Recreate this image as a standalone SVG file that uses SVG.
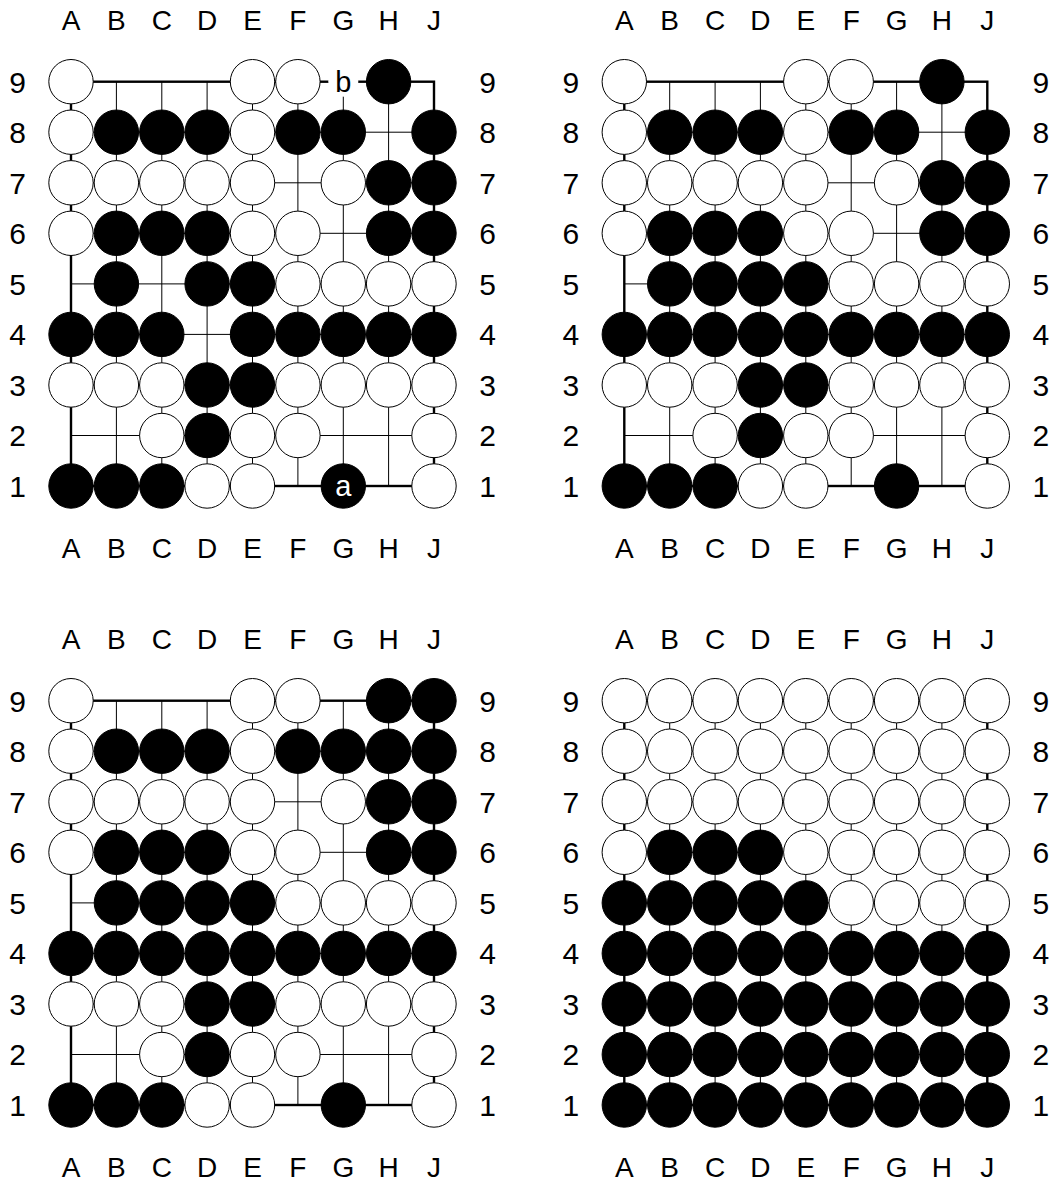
<svg xmlns="http://www.w3.org/2000/svg" xmlns:xlink="http://www.w3.org/1999/xlink" width="1051" height="1187" viewBox="0 0 1051 1187">
<style>
.bg{fill:#fff}
.in{stroke:#000;stroke-width:1;fill:none}
.edge{stroke:#000;stroke-width:2.4;fill:none}
.w{fill:#fff;stroke:#000;stroke-width:1}
.k{fill:#000;stroke:#000;stroke-width:1}
.lbl{font-family:"Liberation Sans","DejaVu Sans",sans-serif;font-size:28px;text-anchor:middle;fill:#000}
.num{font-size:30px}
.mk{font-family:"Liberation Sans","DejaVu Sans",sans-serif;font-size:29px;text-anchor:middle}
</style>
<defs>
<circle id="W" r="22.2" class="w"/>
<circle id="B" r="22.2" class="k"/>
<g id="grid">
<g class="in">
<path d="M71 132.2H434M71 182.8H434M71 233.3H434M71 283.9H434M71 334.4H434M71 385H434M71 435.5H434"/>
<path d="M116.4 81.7V486M161.8 81.7V486M207.1 81.7V486M252.5 81.7V486M297.9 81.7V486M343.3 81.7V486M388.6 81.7V486"/>
</g>
<rect class="edge" x="71" y="81.7" width="363" height="404.3"/>
</g>
<g id="labels" class="lbl">
<text x="71" y="30">A</text><text x="116.4" y="30">B</text><text x="161.8" y="30">C</text><text x="207.1" y="30">D</text><text x="252.5" y="30">E</text><text x="297.9" y="30">F</text><text x="343.3" y="30">G</text><text x="388.6" y="30">H</text><text x="434" y="30">J</text>
<text x="71" y="558">A</text><text x="116.4" y="558">B</text><text x="161.8" y="558">C</text><text x="207.1" y="558">D</text><text x="252.5" y="558">E</text><text x="297.9" y="558">F</text><text x="343.3" y="558">G</text><text x="388.6" y="558">H</text><text x="434" y="558">J</text>
<g class="num">
<text x="17.5" y="92.5">9</text><text x="17.5" y="143">8</text><text x="17.5" y="193.5">7</text><text x="17.5" y="244">6</text><text x="17.5" y="294.5">5</text><text x="17.5" y="345">4</text><text x="17.5" y="395.5">3</text><text x="17.5" y="446">2</text><text x="17.5" y="496.5">1</text>
<text x="487.5" y="92.5">9</text><text x="487.5" y="143">8</text><text x="487.5" y="193.5">7</text><text x="487.5" y="244">6</text><text x="487.5" y="294.5">5</text><text x="487.5" y="345">4</text><text x="487.5" y="395.5">3</text><text x="487.5" y="446">2</text><text x="487.5" y="496.5">1</text>
</g>
</g>
<g id="common">
<use href="#W" x="71" y="132.2"/><use href="#B" x="116.4" y="132.2"/><use href="#B" x="161.8" y="132.2"/><use href="#B" x="207.1" y="132.2"/><use href="#W" x="252.5" y="132.2"/><use href="#B" x="297.9" y="132.2"/><use href="#B" x="343.3" y="132.2"/><use href="#B" x="434" y="132.2"/>
<use href="#W" x="71" y="182.8"/><use href="#W" x="116.4" y="182.8"/><use href="#W" x="161.8" y="182.8"/><use href="#W" x="207.1" y="182.8"/><use href="#W" x="252.5" y="182.8"/><use href="#W" x="343.3" y="182.8"/><use href="#B" x="388.6" y="182.8"/><use href="#B" x="434" y="182.8"/>
<use href="#W" x="71" y="233.3"/><use href="#B" x="116.4" y="233.3"/><use href="#B" x="161.8" y="233.3"/><use href="#B" x="207.1" y="233.3"/><use href="#W" x="252.5" y="233.3"/><use href="#W" x="297.9" y="233.3"/><use href="#B" x="388.6" y="233.3"/><use href="#B" x="434" y="233.3"/>
<use href="#W" x="71" y="81.7"/><use href="#W" x="252.5" y="81.7"/><use href="#W" x="297.9" y="81.7"/><use href="#B" x="388.6" y="81.7"/>
<use href="#W" x="297.9" y="283.9"/><use href="#W" x="343.3" y="283.9"/><use href="#W" x="388.6" y="283.9"/><use href="#W" x="434" y="283.9"/>
<use href="#W" x="71" y="385"/><use href="#W" x="116.4" y="385"/><use href="#W" x="161.8" y="385"/><use href="#B" x="207.1" y="385"/><use href="#B" x="252.5" y="385"/><use href="#W" x="297.9" y="385"/><use href="#W" x="343.3" y="385"/><use href="#W" x="388.6" y="385"/><use href="#W" x="434" y="385"/>
<use href="#W" x="161.8" y="435.5"/><use href="#B" x="207.1" y="435.5"/><use href="#W" x="252.5" y="435.5"/><use href="#W" x="297.9" y="435.5"/><use href="#W" x="434" y="435.5"/>
<use href="#B" x="71" y="486"/><use href="#B" x="116.4" y="486"/><use href="#B" x="161.8" y="486"/><use href="#W" x="207.1" y="486"/><use href="#W" x="252.5" y="486"/><use href="#B" x="343.3" y="486"/><use href="#W" x="434" y="486"/>
<use href="#B" x="116.4" y="283.9"/><use href="#B" x="207.1" y="283.9"/><use href="#B" x="252.5" y="283.9"/>
<use href="#B" x="71" y="334.4"/><use href="#B" x="116.4" y="334.4"/><use href="#B" x="161.8" y="334.4"/><use href="#B" x="252.5" y="334.4"/><use href="#B" x="297.9" y="334.4"/><use href="#B" x="343.3" y="334.4"/><use href="#B" x="388.6" y="334.4"/><use href="#B" x="434" y="334.4"/>
</g>
<g id="fullrowB">
<use href="#B" x="71"/><use href="#B" x="116.4"/><use href="#B" x="161.8"/><use href="#B" x="207.1"/><use href="#B" x="252.5"/><use href="#B" x="297.9"/><use href="#B" x="343.3"/><use href="#B" x="388.6"/><use href="#B" x="434"/>
</g>
<g id="fullrowW">
<use href="#W" x="71"/><use href="#W" x="116.4"/><use href="#W" x="161.8"/><use href="#W" x="207.1"/><use href="#W" x="252.5"/><use href="#W" x="297.9"/><use href="#W" x="343.3"/><use href="#W" x="388.6"/><use href="#W" x="434"/>
</g>
</defs>
<rect class="bg" x="0" y="0" width="1051" height="1187"/>

<g id="board1">
<use href="#grid"/>
<use href="#labels"/>
<use href="#common"/>
<circle cx="343.3" cy="81.7" r="15" fill="#fff"/>
<text class="mk" x="343.3" y="92" fill="#000">b</text>
<text class="mk" x="343.3" y="496" fill="#fff">a</text>
</g>

<g id="board2" transform="translate(553.3,0)">
<use href="#grid"/>
<use href="#labels"/>
<use href="#common"/>
<use href="#B" x="161.8" y="283.9"/>
<use href="#B" x="207.1" y="334.4"/>
</g>

<g id="board3" transform="translate(0,619)">
<use href="#grid"/>
<use href="#labels"/>
<use href="#common"/>
<use href="#B" x="161.8" y="283.9"/>
<use href="#B" x="207.1" y="334.4"/>
<use href="#B" x="434" y="81.7"/>
<use href="#B" x="388.6" y="132.2"/>
</g>

<g id="board4" transform="translate(553.3,619)">
<use href="#grid"/>
<use href="#labels"/>
<use href="#fullrowW" y="81.7"/>
<use href="#fullrowW" y="132.2"/>
<use href="#fullrowW" y="182.8"/>
<use href="#W" x="71" y="233.3"/><use href="#B" x="116.4" y="233.3"/><use href="#B" x="161.8" y="233.3"/><use href="#B" x="207.1" y="233.3"/><use href="#W" x="252.5" y="233.3"/><use href="#W" x="297.9" y="233.3"/><use href="#W" x="343.3" y="233.3"/><use href="#W" x="388.6" y="233.3"/><use href="#W" x="434" y="233.3"/>
<use href="#B" x="71" y="283.9"/><use href="#B" x="116.4" y="283.9"/><use href="#B" x="161.8" y="283.9"/><use href="#B" x="207.1" y="283.9"/><use href="#B" x="252.5" y="283.9"/><use href="#W" x="297.9" y="283.9"/><use href="#W" x="343.3" y="283.9"/><use href="#W" x="388.6" y="283.9"/><use href="#W" x="434" y="283.9"/>
<use href="#fullrowB" y="334.4"/>
<use href="#fullrowB" y="385"/>
<use href="#fullrowB" y="435.5"/>
<use href="#fullrowB" y="486"/>
</g>
</svg>
